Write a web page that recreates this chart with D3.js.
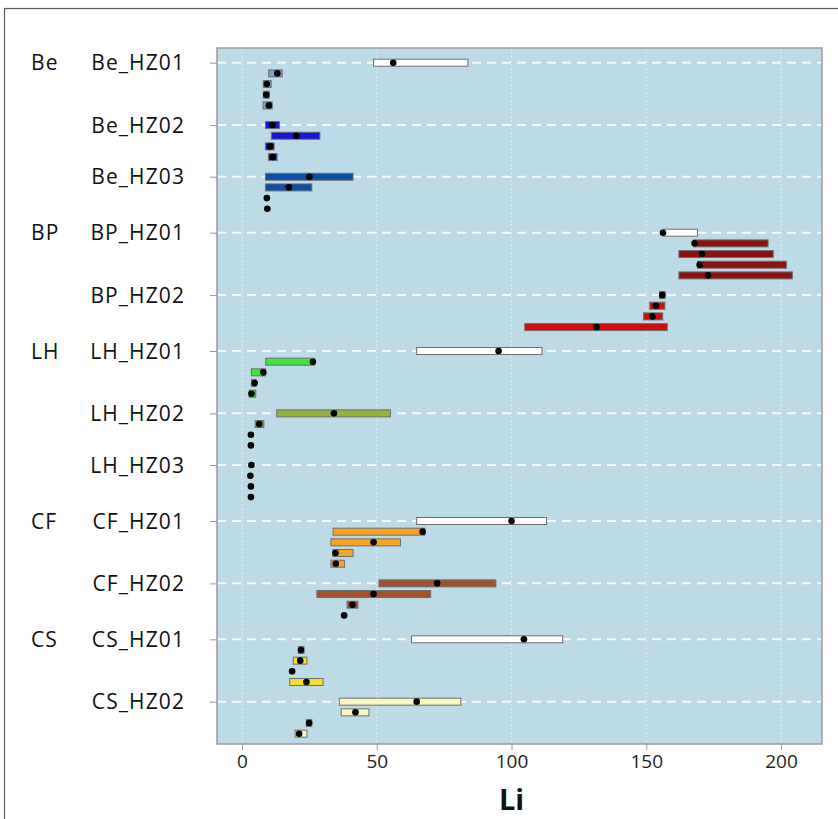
<!DOCTYPE html>
<html>
<head>
<meta charset="utf-8">
<script src="https://cdn.jsdelivr.net/npm/d3@7"></script>
<style>
  html, body { margin: 0; padding: 0; background: #fff; }
  svg { display: block; }
</style>
</head>
<body>
<svg id="chart" width="838" height="819"></svg>
<script>
// ---------------- DATA ----------------
const sites = ["Be", "BP", "LH", "CF", "CS"];
const groups = ["Be_HZ01","Be_HZ02","Be_HZ03","BP_HZ01","BP_HZ02","LH_HZ01","LH_HZ02","LH_HZ03","CF_HZ01","CF_HZ02","CS_HZ01","CS_HZ02"];
const groupSite = ["Be","Be","Be","BP","BP","LH","LH","LH","CF","CF","CS","CS"];

// site-level summary rows (min, max, mean)
const siteMin  = [48.8, 156.2, 64.8, 64.8, 62.9];
const siteMax  = [83.8, 169.0, 111.3, 113.0, 119.0];
const siteMean = [56.1, 156.2, 95.2, 100.0, 104.6];

// sample rows per group: min, max, mean
const sampleMin = {
  Be_HZ01: [9.9, 7.9, 7.9, 7.8],
  Be_HZ02: [8.7, 10.9, 8.7, 9.8],
  Be_HZ03: [8.7, 8.7, 9.2, 9.4],
  BP_HZ01: [167.5, 162.1, 169.0, 162.1],
  BP_HZ02: [154.9, 151.3, 149.0, 104.9],
  LH_HZ01: [8.8, 3.5, 3.5, 2.7],
  LH_HZ02: [12.9, 4.9, 3.3, 3.3],
  LH_HZ03: [3.5, 3.1, 3.3, 3.3],
  CF_HZ01: [33.8, 33.0, 33.7, 33.0],
  CF_HZ02: [50.8, 27.8, 39.0, 37.9],
  CS_HZ01: [20.9, 19.0, 18.6, 17.7],
  CS_HZ02: [36.1, 36.8, 23.9, 19.7]
};
const sampleMax = {
  Be_HZ01: [14.9, 10.8, 10.1, 11.2],
  Be_HZ02: [13.9, 28.9, 11.9, 13.0],
  Be_HZ03: [41.2, 25.9, 9.2, 9.4],
  BP_HZ01: [195.2, 197.1, 202.0, 204.2],
  BP_HZ02: [157.0, 156.9, 156.1, 157.8],
  LH_HZ01: [26.9, 8.7, 5.2, 5.1],
  LH_HZ02: [55.1, 8.1, 3.3, 3.3],
  LH_HZ03: [3.5, 3.1, 3.3, 3.3],
  CF_HZ01: [67.8, 58.8, 41.2, 38.0],
  CF_HZ02: [94.2, 70.0, 43.0, 37.9],
  CS_HZ01: [23.0, 24.1, 18.6, 30.1],
  CS_HZ02: [81.2, 47.1, 25.9, 24.1]
};
const sampleMean = {
  Be_HZ01: [13.1, 9.2, 9.0, 10.0],
  Be_HZ02: [11.3, 20.1, 10.4, 11.4],
  Be_HZ03: [25.0, 17.4, 9.2, 9.4],
  BP_HZ01: [167.9, 170.7, 169.8, 172.9],
  BP_HZ02: [155.9, 153.6, 152.3, 131.5],
  LH_HZ01: [26.3, 7.9, 4.7, 3.5],
  LH_HZ02: [34.1, 6.4, 3.3, 3.3],
  LH_HZ03: [3.5, 3.1, 3.3, 3.3],
  CF_HZ01: [67.0, 48.8, 34.7, 34.8],
  CF_HZ02: [72.4, 48.8, 41.0, 37.9],
  CS_HZ01: [21.9, 21.6, 18.6, 23.9],
  CS_HZ02: [64.8, 42.1, 24.9, 21.2]
};

const xTicks = [0, 50, 100, 150, 200];
const xTitle = "Li";

// ---------------- STYLES ----------------
const groupColor = {
  Be_HZ01: "#7f9dd6", Be_HZ02: "#1616d6", Be_HZ03: "#0b4fa6",
  BP_HZ01: "#8c1212", BP_HZ02: "#d20c0c",
  LH_HZ01: "#3fe63f", LH_HZ02: "#93b23b", LH_HZ03: "#2e8b57",
  CF_HZ01: "#f7a326", CF_HZ02: "#a0522d",
  CS_HZ01: "#f6dc2c", CS_HZ02: "#fbf7c2"
};
const siteColor = "#ffffff";

// ---------------- LAYOUT ----------------
const panel = { left: 217, right: 822, top: 48, bottom: 744 };
const svg = d3.select("#chart");

const rows = [];
const labelRows = [];
let pos = 0, first = true, prevSite = null;
const HZ_GAP = 1.84, SITE_GAP = 2.24;
groups.forEach((g, gi) => {
  const s = groupSite[gi];
  if (!first) pos += (s === prevSite) ? HZ_GAP : SITE_GAP;
  labelRows.push({ group: g, site: s, firstOfSite: s !== prevSite, pos: pos });
  if (s !== prevSite) {
    const si = sites.indexOf(s);
    rows.push({ pos: pos, min: siteMin[si], max: siteMax[si], mean: siteMean[si], color: siteColor });
    pos += 1;
  }
  sampleMin[g].forEach((mn, i) => {
    if (i > 0) pos += 1;
    rows.push({ pos: pos, min: mn, max: sampleMax[g][i], mean: sampleMean[g][i], color: groupColor[g] });
  });
  first = false;
  prevSite = s;
});
const maxPos = pos;

const x = d3.scaleLinear().domain([-9.28, 215.2]).range([panel.left, panel.right]);
const y = d3.scaleLinear().domain([0, maxPos]).range([62.7, 733.7]);

// outer frame
svg.append("rect").attr("x", 4.5).attr("y", 8.5).attr("width", 900).attr("height", 900)
  .attr("fill", "none").attr("stroke", "#5a5a5a").attr("stroke-width", 1.2);

// panel background
svg.append("rect")
  .attr("x", panel.left).attr("y", panel.top)
  .attr("width", panel.right - panel.left).attr("height", panel.bottom - panel.top)
  .attr("fill", "#bddbe6");

// vertical grid
svg.append("g").selectAll("line").data(xTicks).join("line")
  .attr("x1", d => x(d)).attr("x2", d => x(d))
  .attr("y1", panel.top).attr("y2", panel.bottom)
  .attr("stroke", "#ffffff").attr("stroke-opacity", 0.55)
  .attr("stroke-width", 1).attr("stroke-dasharray", "2,2");

// horizontal dashed grid at group label rows
svg.append("g").selectAll("line").data(labelRows).join("line")
  .attr("x1", panel.left).attr("x2", panel.right)
  .attr("y1", d => y(d.pos)).attr("y2", d => y(d.pos))
  .attr("stroke", "#ffffff").attr("stroke-opacity", 0.85)
  .attr("stroke-width", 2).attr("stroke-dasharray", "9,6");

// bars
const barH = 7;
svg.append("g").selectAll("rect").data(rows).join("rect")
  .attr("x", d => x(d.min))
  .attr("y", d => y(d.pos) - barH / 2)
  .attr("width", d => Math.max(0, x(d.max) - x(d.min)))
  .attr("height", barH)
  .attr("fill", d => d.color)
  .attr("stroke", "#6e6e6e").attr("stroke-width", 1);

// mean dots
svg.append("g").selectAll("circle").data(rows).join("circle")
  .attr("cx", d => x(d.mean)).attr("cy", d => y(d.pos))
  .attr("r", 3.3).attr("fill", "#000");

// panel border
svg.append("rect")
  .attr("x", panel.left).attr("y", panel.top)
  .attr("width", panel.right - panel.left).attr("height", panel.bottom - panel.top)
  .attr("fill", "none").attr("stroke", "#9a9a9a").attr("stroke-width", 1.5);

// bottom axis
const xAxis = d3.axisBottom(x).tickValues(xTicks).tickSize(6).tickPadding(5).tickFormat(d3.format("d"));
const gx = svg.append("g").attr("transform", `translate(0,${panel.bottom})`).call(xAxis);
gx.select(".domain").remove();
gx.selectAll(".tick line").attr("stroke", "#999");
gx.selectAll(".tick text").attr("font-family", "'Open Sans', sans-serif").attr("font-size", 19).attr("fill", "#222");

svg.append("text").attr("x", x(100)).attr("y", 810)
  .attr("text-anchor", "middle").attr("font-family", "'Open Sans', sans-serif")
  .attr("font-weight", "bold").attr("font-size", 29).attr("fill", "#111").text(xTitle);

// left y ticks
const yAxis = d3.axisLeft(y).tickValues(labelRows.map(d => d.pos)).tickSize(7).tickFormat("");
const gy = svg.append("g").attr("transform", `translate(${panel.left},0)`).call(yAxis);
gy.select(".domain").remove();
gy.selectAll(".tick line").attr("stroke", "#999");

// group labels
svg.append("g").selectAll("text").data(labelRows).join("text")
  .attr("x", 185).attr("y", d => y(d.pos)).attr("dy", "0.36em")
  .attr("text-anchor", "end")
  .attr("font-family", "'Open Sans', sans-serif").attr("font-size", 21)
  .attr("letter-spacing", 1.1).attr("fill", "#111")
  .text(d => d.group);

// site labels
svg.append("g").selectAll("text").data(labelRows.filter(d => d.firstOfSite)).join("text")
  .attr("x", 31).attr("y", d => y(d.pos)).attr("dy", "0.36em")
  .attr("text-anchor", "start")
  .attr("font-family", "'Open Sans', sans-serif").attr("font-size", 21)
  .attr("letter-spacing", 1.1).attr("fill", "#111")
  .text(d => d.site);
</script>
</body>
</html>
